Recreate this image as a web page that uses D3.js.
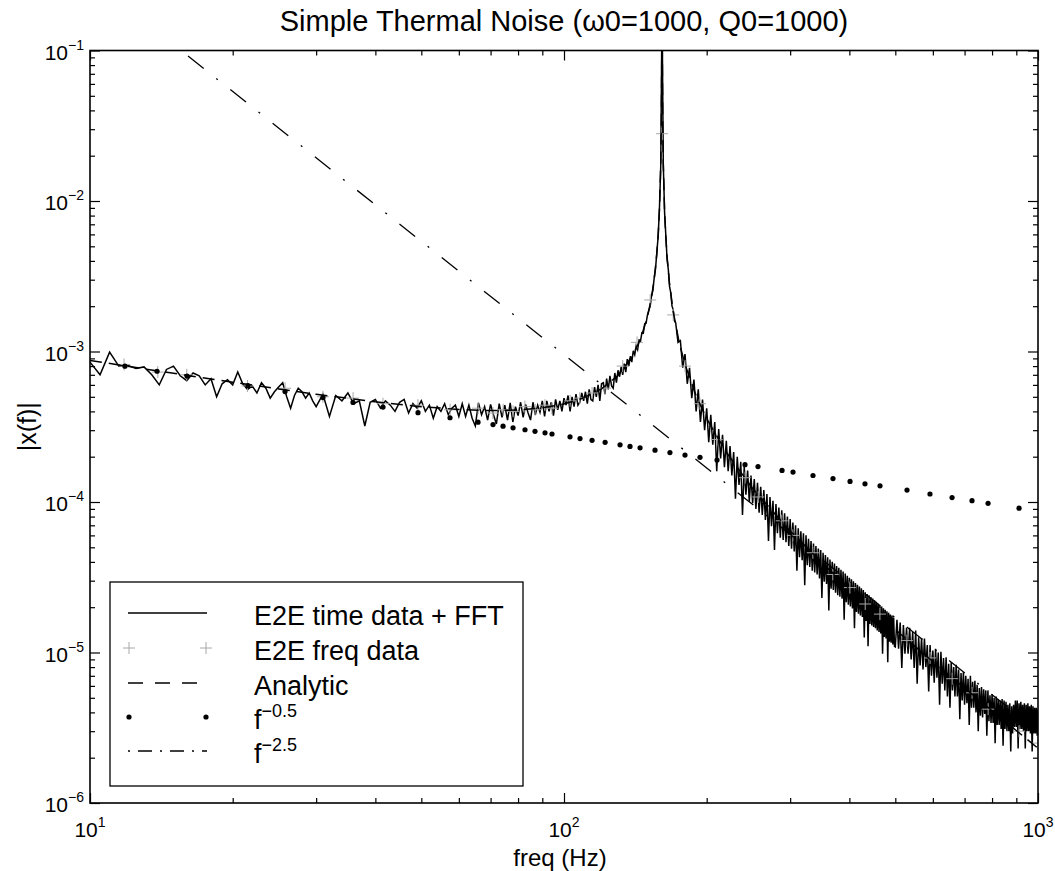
<!DOCTYPE html>
<html><head><meta charset="utf-8">
<script src="https://cdn.jsdelivr.net/npm/d3@7"></script>
<style>
body{margin:0;background:#fff}
svg{display:block}
text{font-family:"Liberation Sans",Arial,Helvetica,sans-serif;fill:#000}
</style>
</head><body>
<svg id="chart" width="1055" height="871"></svg>
<script>
// ---- data (all |x(f)| values in units of 1e-6) ----
const UNIT = 1e-6;

// E2E time data + FFT, uniformly spaced frequency bins per segment
const fftLowStart = 10, fftLowStep = 0.5;
const fftLowValues = [850,700,990,800,810,770,790,700,600,760,
  800,690,640,720,690,600,660,500,610,650,
  600,730,610,560,590,530,620,570,490,540,
  580,620,500,420,510,570,540,490,530,470,
  430];
const fftMidStart = 31, fftMidStep = 1;
const fftMidValues = [520,370,510,470,530,450,470,320,460,480,
  420,470,440,400,460,480,390,450,420,470,
  400,440,360,430,400,450,380,420,440,370,
  450,370,440,360,320,455,380,430,350,445,
  380,330,450,365,440,350,455,340,430,375,
  460,365,445,390,350,460,380,440,395,470,
  370,470,400,460,375,480,410,470,400,490,
  440,510,400,500,430,520,440,460,530,470,
  540,450,560,480,470,580,500,600,470,610,
  620,520,660,560,690,590,570,720,620,750,
  680,790,700,830,730,890,800,930,850,1010,
  950,1090,1030,1190,1170,1330,1320,1530,1540,1750];
const fftPeakStart = 151, fftPeakStep = 1;
const fftPeakValues = [1880,2000,2350,2550,3100,3550,4600,5800,9000,17000,
  200000,17500,8400,5900,4100,3500,2700,2450,2000,1900,1600];
const fftHighAStart = 172, fftHighAStep = 2;
const fftHighAValues = [1560,1150,1180,780,960,610,780,490,650,400,
  560,340,480,300,420,250,380,240,340,160,
  305,195,280,170,255,160,235,150,215,105,
  200,130,185,82,172,112,162,100,150,98,
  142,90,134,85,126,82,120,76,113,55,
  108,69,102,48,97,62,92,58,88,56,
  84,54,80,51,77,49,73,47,70,35,
  67,43,64,41,62,28,60,38,57,37,
  55,35,53,34,51,33,49,31,48,23,
  46,29.5,44.5,28.5,43,19,41.5,26.5,40,26,
  39,25,37.5,24,36.5,23.5,35.5,22.8,34.5,16.5,
  33.5,21.6,32.3,20.8,31.4,20.2,30.6,19.6,29.7,14.5,
  29,18.6,28.2,18.1,27.4,17.6,26.7,17.2,26,12.6,
  25.1,16.2,24.5,11,24,15.5,23.4,15.1,22.8,14.8,
  22.2,14.5,21.7,14,21.1,13.7,20.6,13.4,20.2,9.8,
  19.7,12.7,19.2,12.4,18.8,8.6,18.4,11.8,17.9,11.6,
  17.6,11.3,17.1,11.0];
const fftHighBStart = 500, fftHighBStep = 4;
const fftHighBValues = [10.9,16.5,10.6,15.8,7.9,15.2,9.8,14.6,
  9.8,14.6,9.0,13.7,7.9,14,6.2,12.6,8.2,12.5,
  7.7,12.4,8.0,11.2,5.5,11.2,7.0,10.3,6.3,10.6,
  6.8,10,4.5,10.1,6.2,9.2,5.6,9.3,5.1,8.4,
  4.3,8.6,5.6,8.0,5.1,8.3,5.1,7.7,3.6,7.3,
  4.8,7.4,4.5,7.0,4.6,6.7,3.3,7.0,4.3,6.4,
  4.3,6.5,4.0,6.1,3.0,5.8,3.8,5.9,3.7,5.7,
  3.9,5.6,2.8,5.6,3.5,5.2,3.4,5.3,3.4,5.0,
  2.5,5.1,3.3,4.9,3.3,4.8,3.1,4.9,2.4,4.8,
  3.1,4.7,3.0,4.5,3.0,4.6,2.2,4.4,2.9,4.5,
  3.2,4.8,3.2,4.8,2.3,4.6,3.1,4.7,3.1,4.5,
  3.0,4.6,2.3,4.5,3.0,4.6,3.0,4.4,2.9,4.5,
  2.2,4.4,2.9,4.3,2.9,4.3,2.8,4.2];

// E2E freq data (crosses)
const freqDataFreqs = [11.8,13.9,16,21.5,25.8,31,35.9,41.5,49.2,57.5,65.9,70.8,74.4,78.1,82.7,86.9,91.2,94.3,103,108,114.6,122,133,142.6,152,161,170,180,193.6,210,241,257,288,304,335,369,401,432,464,529,592,659,726,785,912,1000];
const freqDataValues = [820,730,700,590,570,500,490,450,440,410,420,390,410,400,430,410,440,420,470,490,530,570,800,1150,2200,28000,1750,800,450,260,145,108,75,60,46,33,27,21,18,12,9.2,6.7,5.4,4.2,3.0,2.5];

// Analytic curve
const analyticFreqs = [10,12,15,20,25,30,40,50,60,70,80,90,100,110,120,130,140,145,150,153,155,157,158,159,160,160.5,161,161.5,162,163,164,165,167,170,175,180,190,200,220,250,300,350,400,500,600,700,800,900,1000];
const analyticValues = [873,798,716,625,564,520,463,430,412,405,408,422,448,492,565,693,953,1210,1700,2294,3020,4470,5930,8830,17500,34600,216700,34300,17200,8620,5710,4260,2800,1840,1145,820,508,358,214,123,64.2,39.5,26.6,14.2,8.71,5.81,4.10,3.03,2.31];

// f^-0.5 reference (dots)
const halfFreqs = [11.85,13.85,16.02,21.54,25.79,31.01,35.88,41.51,49.2,57.48,65.86,70.84,74.37,78.07,82.74,86.86,91.19,94.34,102.97,108.1,114.6,122.1,131.3,137.8,144.7,155.6,167.3,180,193.6,210.3,240.9,256.6,288.4,304.2,335.2,369.4,401.3,431.5,464.2,529.2,591.7,658.7,725.8,784.6,912];
const halfValues = [799,739,687,593,542,494,459,427,392,363,339,327,319,311,302,295,288,283,271,264,257,249,240,234,229,221,213,205,198,190,177,172,162,158,150,143,137,132,128,120,113,107,102,98,91];

// f^-2.5 reference (dash-dot)
const twoHalfFreqs = [16.1, 1000];
const twoHalfValues = [91900, 3.0];

// axes / text
const xMajorTicks = [10, 100, 1000];
const xMajorLabels = ["1", "2", "3"];
const yMajorTicks = [1e-6, 1e-5, 1e-4, 1e-3, 1e-2, 1e-1];
const yMajorLabels = ["\u22126", "\u22125", "\u22124", "\u22123", "\u22122", "\u22121"];
const titleText = "Simple Thermal Noise (\u03c90=1000, Q0=1000)";
const xLabelText = "freq (Hz)";
const yLabelText = "|x(f)|";
const legendLabels = ["E2E time data + FFT", "E2E freq data", "Analytic", "f", "f"];
const legendSups = ["", "", "", "\u22120.5", "\u22122.5"];

// ---- drawing ----
const svg = d3.select("#chart");
const L = 90, R = 1038, T = 50.5, B = 803;
const x = d3.scaleLog().domain([10, 1000]).range([L, R]);
const y = d3.scaleLog().domain([1e-6, 1e-1]).range([B, T]);

function segment(start, step, vals) {
  return vals.map((v, i) => ({f: start + i * step, v: v * UNIT}));
}
const fftSeries = [].concat(
  segment(fftLowStart, fftLowStep, fftLowValues),
  segment(fftMidStart, fftMidStep, fftMidValues),
  segment(fftPeakStart, fftPeakStep, fftPeakValues),
  segment(fftHighAStart, fftHighAStep, fftHighAValues),
  segment(fftHighBStart, fftHighBStep, fftHighBValues));
const pairs = (fs, vs) => fs.map((f, i) => ({f, v: vs[i] * UNIT}));
const freqSeries = pairs(freqDataFreqs, freqDataValues);
const analyticSeries = pairs(analyticFreqs, analyticValues);
const halfSeries = pairs(halfFreqs, halfValues);
const twoHalfSeries = pairs(twoHalfFreqs, twoHalfValues);

svg.append("defs").append("clipPath").attr("id", "plotclip")
  .append("rect").attr("x", L).attr("y", T).attr("width", R - L).attr("height", B - T);

const line = d3.line().x(d => x(d.f)).y(d => y(d.v));
const plot = svg.append("g").attr("clip-path", "url(#plotclip)");

plot.append("path").datum(fftSeries).attr("d", line)
  .attr("fill", "none").attr("stroke", "#000").attr("stroke-width", 1.5).attr("stroke-linejoin", "miter");

const cross = "M-6,0H6M0,-6V6";
plot.append("g").selectAll("path").data(freqSeries).join("path")
  .attr("transform", d => `translate(${x(d.f)},${y(d.v)})`)
  .attr("d", cross).attr("stroke", "#a8a8a8").attr("stroke-width", 1).attr("fill", "none");

plot.append("path").datum(analyticSeries).attr("d", line)
  .attr("fill", "none").attr("stroke", "#000").attr("stroke-width", 1.5).attr("stroke-dasharray", "12,7");

plot.append("g").selectAll("circle").data(halfSeries).join("circle")
  .attr("cx", d => x(d.f)).attr("cy", d => y(d.v)).attr("r", 2.6).attr("fill", "#000");

plot.append("path").datum(twoHalfSeries).attr("d", line)
  .attr("fill", "none").attr("stroke", "#000").attr("stroke-width", 1.3).attr("stroke-dasharray", "20,16,2,16");

// axes (ticks inside on all four sides)
const xMinor = [], yMinor = [];
[10, 100].forEach(d => { for (let k = 2; k <= 9; k++) xMinor.push(d * k); });
[1e-6, 1e-5, 1e-4, 1e-3, 1e-2].forEach(d => { for (let k = 2; k <= 9; k++) yMinor.push(d * k); });

function axisG(gen, tx, ty) {
  const g = svg.append("g").attr("transform", `translate(${tx},${ty})`).call(gen);
  g.select(".domain").remove();
  g.selectAll(".tick line").attr("stroke", "#000").attr("stroke-width", 1.2);
  return g;
}
axisG(d3.axisBottom(x).tickValues(xMajorTicks).tickSize(-10).tickFormat(""), 0, B);
axisG(d3.axisBottom(x).tickValues(xMinor).tickSize(-5).tickFormat(""), 0, B);
axisG(d3.axisTop(x).tickValues(xMajorTicks).tickSize(-10).tickFormat(""), 0, T);
axisG(d3.axisTop(x).tickValues(xMinor).tickSize(-5).tickFormat(""), 0, T);
axisG(d3.axisLeft(y).tickValues(yMajorTicks).tickSize(-10).tickFormat(""), L, 0);
axisG(d3.axisLeft(y).tickValues(yMinor).tickSize(-5).tickFormat(""), L, 0);
axisG(d3.axisRight(y).tickValues(yMajorTicks).tickSize(-10).tickFormat(""), R, 0);
axisG(d3.axisRight(y).tickValues(yMinor).tickSize(-5).tickFormat(""), R, 0);

svg.append("rect").attr("x", L).attr("y", T).attr("width", R - L).attr("height", B - T)
  .attr("fill", "none").attr("stroke", "#000").attr("stroke-width", 1.6);

// tick labels
xMajorTicks.forEach((t, i) => {
  const tx = svg.append("text").attr("x", x(t)).attr("y", 837).attr("text-anchor", "middle").attr("font-size", 21);
  tx.append("tspan").text("10");
  tx.append("tspan").attr("dy", -10).attr("font-size", 14).text(xMajorLabels[i]);
});
yMajorTicks.forEach((t, i) => {
  const tx = svg.append("text").attr("x", 84).attr("y", y(t) + 9).attr("text-anchor", "end").attr("font-size", 21);
  tx.append("tspan").text("10");
  tx.append("tspan").attr("dy", -10).attr("font-size", 14).text(yMajorLabels[i]);
});

// titles
svg.append("text").attr("x", (L + R) / 2).attr("y", 31).attr("text-anchor", "middle")
  .attr("font-size", 29).text(titleText);
svg.append("text").attr("x", (L + R) / 2 - 4).attr("y", 866).attr("text-anchor", "middle")
  .attr("font-size", 24).text(xLabelText);
svg.append("text").attr("transform", `translate(36,${(T + B) / 2}) rotate(-90)`)
  .attr("text-anchor", "middle").attr("font-size", 25).text(yLabelText);

// legend
const lg = svg.append("g");
lg.append("rect").attr("x", 110).attr("y", 582).attr("width", 413).attr("height", 204)
  .attr("fill", "#fff").attr("stroke", "#000").attr("stroke-width", 1.3);
const rowY = [613, 648, 683, 717, 751];
const sx0 = 128, sx1 = 207;
lg.append("line").attr("x1", sx0).attr("x2", sx1).attr("y1", rowY[0]).attr("y2", rowY[0])
  .attr("stroke", "#000").attr("stroke-width", 1.3);
[sx0 + 1, sx1 - 1].forEach(px => lg.append("path").attr("transform", `translate(${px},${rowY[1]})`)
  .attr("d", cross).attr("stroke", "#a8a8a8").attr("stroke-width", 1).attr("fill", "none"));
lg.append("line").attr("x1", sx0).attr("x2", sx1).attr("y1", rowY[2]).attr("y2", rowY[2])
  .attr("stroke", "#000").attr("stroke-width", 1.5).attr("stroke-dasharray", "15,12");
[sx0 + 1, sx1 - 1].forEach(px => lg.append("circle").attr("cx", px).attr("cy", rowY[3]).attr("r", 2.6).attr("fill", "#000"));
lg.append("line").attr("x1", sx0).attr("x2", sx1).attr("y1", rowY[4]).attr("y2", rowY[4])
  .attr("stroke", "#000").attr("stroke-width", 1.3).attr("stroke-dasharray", "2,8,14,8");
legendLabels.forEach((lab, i) => {
  const t = lg.append("text").attr("x", 254).attr("y", rowY[i] + 12).attr("font-size", 27);
  t.append("tspan").text(lab);
  if (legendSups[i]) t.append("tspan").attr("dy", -12).attr("font-size", 18).text(legendSups[i]);
});
</script>
</body></html>
